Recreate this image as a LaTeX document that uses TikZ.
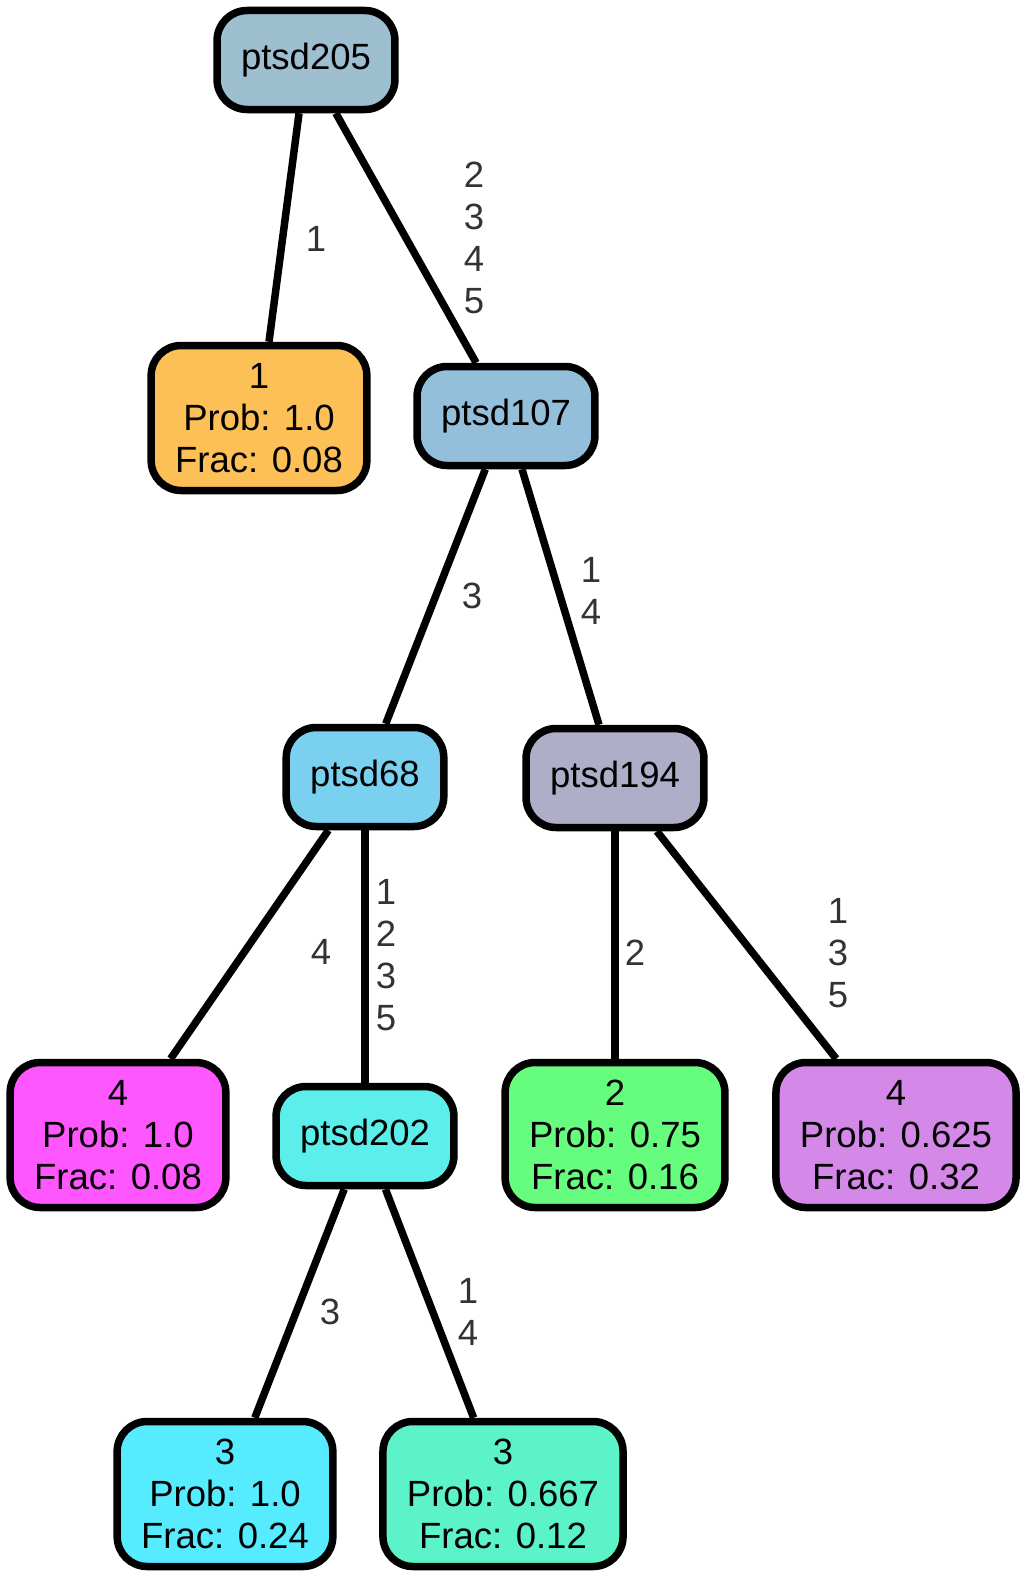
\documentclass[tikz,border=0pt]{standalone}
\usepackage{fontspec}
\setmainfont{Liberation Sans}
\definecolor{cA}{HTML}{9DBFD0}
\definecolor{cB}{HTML}{94BFDA}
\definecolor{cC}{HTML}{79D0EF}
\definecolor{cD}{HTML}{AEAEC8}
\definecolor{cE}{HTML}{5BEEEB}
\definecolor{lA}{HTML}{FDC056}
\definecolor{lB}{HTML}{FF57FF}
\definecolor{lC}{HTML}{66FC7D}
\definecolor{lD}{HTML}{D489E8}
\definecolor{lE}{HTML}{57EBFF}
\definecolor{lF}{HTML}{5DF3C9}

\begin{document}
\begin{tikzpicture}[
  x=1pt, y=-1pt,
  split/.style={draw, line width=7.5pt, rounded corners=30pt, inner xsep=24pt,
    minimum height=99pt, font=\fontsize{36.5}{42}\selectfont},
  leaf/.style={split, align=center, minimum height=145pt},
  edge/.style={line width=7.5pt},
  lbl/.style={text=black!80, align=center, font=\fontsize{36.5}{42}\selectfont}
]
  \useasboundingbox (0,0) rectangle (1026,1579);
  % splits
  \node[split, fill=cA] (p205) at (306,60) {ptsd205};
  \node[split, fill=cB] (p107) at (506,416) {ptsd107};
  \node[split, fill=cC] (p68) at (365,777) {ptsd68};
  \node[split, fill=cD] (p194) at (615,778) {ptsd194};
  \node[split, fill=cE] (p202) at (365,1136) {ptsd202};
  % leaves
  \node[leaf, fill=lA] (l1) at (259,418) {1\\Prob: 1.0\\Frac: 0.08};
  \node[leaf, fill=lB] (l4a) at (118,1135) {4\\Prob: 1.0\\Frac: 0.08};
  \node[leaf, fill=lC] (l2) at (615,1135) {2\\Prob: 0.75\\Frac: 0.16};
  \node[leaf, fill=lD] (l4b) at (896,1135) {4\\Prob: 0.625\\Frac: 0.32};
  \node[leaf, fill=lE] (l3a) at (225,1494) {3\\Prob: 1.0\\Frac: 0.24};
  \node[leaf, fill=lF] (l3b) at (503,1494) {3\\Prob: 0.667\\Frac: 0.12};
  % edges
  \draw[edge] (p205) -- (l1);
  \draw[edge] (p205) -- (p107);
  \draw[edge] (p107) -- (p68);
  \draw[edge] (p107) -- (p194);
  \draw[edge] (p68) -- (l4a);
  \draw[edge] (p68) -- (p202);
  \draw[edge] (p194) -- (l2);
  \draw[edge] (p194) -- (l4b);
  \draw[edge] (p202) -- (l3a);
  \draw[edge] (p202) -- (l3b);
  % edge labels
  \node[lbl] (e1) at (316,239) {1};
  \node[lbl] (e2) at (474,238) {2\\3\\4\\5};
  \node[lbl] (e3) at (472,596) {3};
  \node[lbl] (e4) at (591,591) {1\\4};
  \node[lbl] (e5) at (321,952) {4};
  \node[lbl] (e6) at (386,955) {1\\2\\3\\5};
  \node[lbl] (e7) at (635,953) {2};
  \node[lbl] (e8) at (838,953) {1\\3\\5};
  \node[lbl] (e9) at (330,1312) {3};
  \node[lbl] (e10) at (468,1312) {1\\4};
\end{tikzpicture}
\end{document}
